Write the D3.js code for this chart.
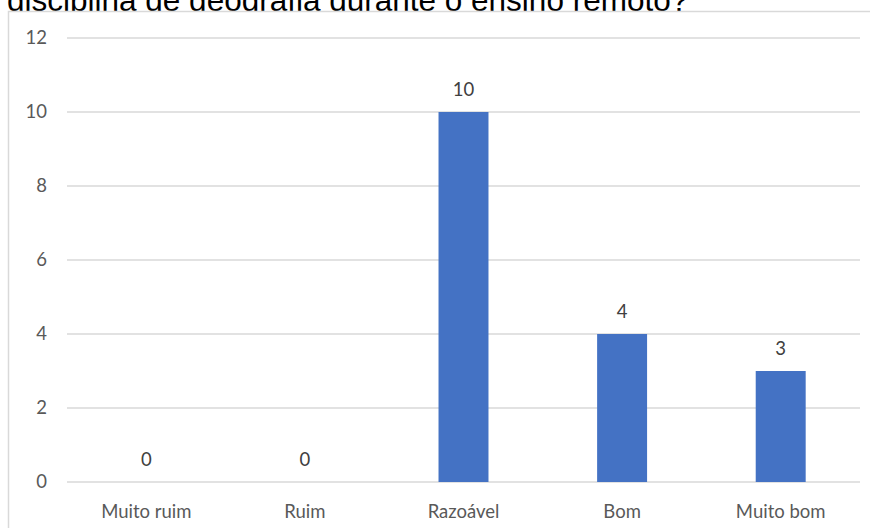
<!DOCTYPE html>
<html>
<head>
<meta charset="utf-8">
<script src="https://cdn.jsdelivr.net/npm/d3@7"></script>
<style>
  html, body { margin: 0; padding: 0; background: #fff; }
  svg { display: block; }
</style>
</head>
<body>
<svg id="chart" width="870" height="528"></svg>
<script>
// Respostas por categoria
const categories = ["Muito ruim", "Ruim", "Razoável", "Bom", "Muito bom"];
const values = [0, 0, 10, 4, 3];
const yTicks = [0, 2, 4, 6, 8, 10, 12];
const titleText = "disciplina de geografia durante o ensino remoto?";

const svg = d3.select("#chart");

// Title line (partly above the frame)
svg.append("text")
  .attr("x", 7).attr("y", 11)
  .attr("font-family", "Liberation Sans, Arial, sans-serif")
  .attr("font-size", 31.5)
  .attr("fill", "#000")
  .text(titleText);

// Chart frame
svg.append("rect")
  .attr("x", 8.5).attr("y", 11.5)
  .attr("width", 900).attr("height", 600)
  .attr("fill", "#fff")
  .attr("stroke", "#d9d9d9")
  .attr("stroke-width", 1.5);

const x = d3.scaleBand()
  .domain(categories)
  .range([67, 860])
  .paddingInner(0.685)
  .paddingOuter(0.3425);

const y = d3.scaleLinear()
  .domain([0, 12])
  .range([482, 38]);

// Gridlines
svg.append("g")
  .selectAll("line")
  .data(yTicks)
  .join("line")
  .attr("x1", 67).attr("x2", 860)
  .attr("y1", d => y(d)).attr("y2", d => y(d))
  .attr("stroke", "#d9d9d9")
  .attr("stroke-width", 1.5);

const labelFont = "Lato, Open Sans, sans-serif";
const labelSize = 18.5;

// Y axis labels
const yAxis = d3.axisLeft(y).tickValues(yTicks).tickSize(0).tickPadding(0);
const gy = svg.append("g").attr("transform", "translate(47,0)").call(yAxis);
gy.select(".domain").remove();
gy.selectAll("text")
  .attr("font-family", labelFont)
  .attr("font-size", labelSize)
  .attr("fill", "#595959");

// Bars
svg.append("g")
  .selectAll("rect")
  .data(values)
  .join("rect")
  .attr("x", (d, i) => x(categories[i]))
  .attr("y", d => y(d))
  .attr("width", x.bandwidth())
  .attr("height", d => y(0) - y(d))
  .attr("fill", "#4472c4");

// Value labels
svg.append("g")
  .selectAll("text")
  .data(values)
  .join("text")
  .attr("x", (d, i) => x(categories[i]) + x.bandwidth() / 2)
  .attr("y", d => y(d) - 16)
  .attr("text-anchor", "middle")
  .attr("font-family", labelFont)
  .attr("font-size", labelSize)
  .attr("fill", "#404040")
  .text(d => d);

// X axis labels
const xAxis = d3.axisBottom(x).tickSize(0).tickPadding(0);
const gx = svg.append("g").attr("transform", "translate(0,518)").call(xAxis);
gx.select(".domain").remove();
gx.selectAll("text")
  .attr("font-family", labelFont)
  .attr("font-size", labelSize)
  .attr("fill", "#595959")
  .attr("dy", null);
</script>
</body>
</html>
